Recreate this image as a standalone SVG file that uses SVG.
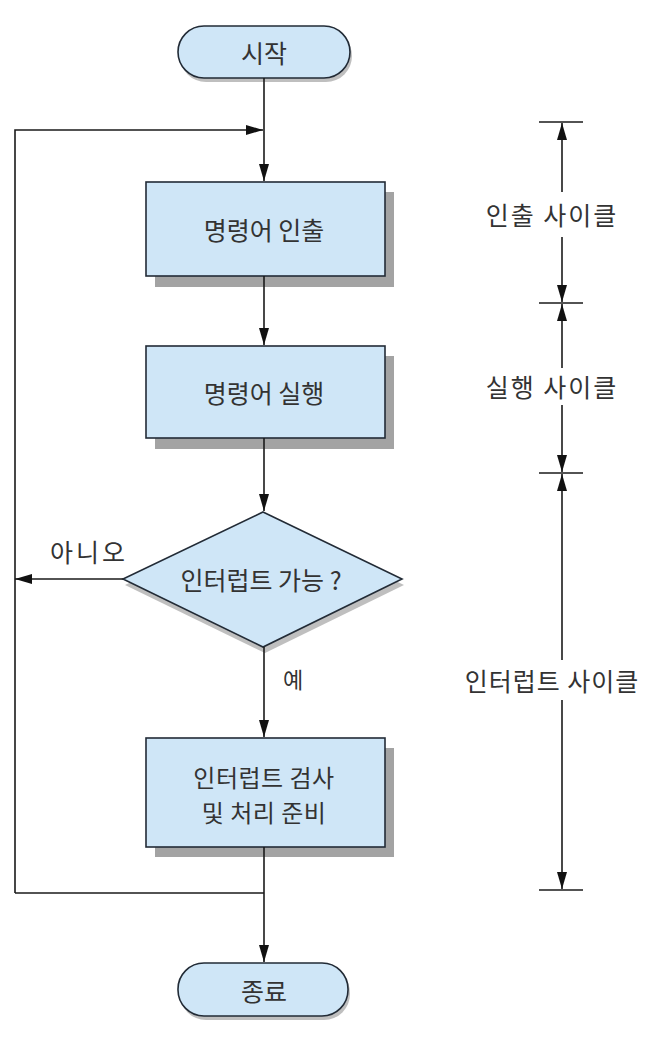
<svg xmlns="http://www.w3.org/2000/svg" width="646" height="1044" viewBox="0 0 646 1044">
<defs>
<style>
.box{fill:#cfe6f7;stroke:#222b36;stroke-width:1.6}
.shadow{fill:#a3a3a3}
.softshadow{fill:#8a8a8a;opacity:0.55}
.t{font-family:"Noto Sans CJK KR","Noto Sans",sans-serif;font-size:25px;fill:#333;text-anchor:middle;dominant-baseline:central}
.t2{font-size:24px;letter-spacing:0.5px}
.lbl{letter-spacing:2px}
.ln{fill:none;stroke:#1a1a1a;stroke-width:1.6}
</style>
<marker id="ah" markerUnits="userSpaceOnUse" markerWidth="18" markerHeight="12" viewBox="0 0 18 12" refX="17" refY="6" orient="auto">
<path d="M0,1 L17,6 L0,11 z" fill="#111"/>
</marker>
</defs>
<rect width="646" height="1044" fill="#fff"/>

<g id="start">
<rect class="softshadow" x="180" y="30" width="172" height="52" rx="26"/>
<rect class="box" x="178" y="26" width="172" height="52" rx="26"/>
<text class="t" x="264" y="52">시작</text>
</g>

<g id="fetch">
<rect class="shadow" x="155" y="192" width="239" height="95"/>
<rect class="box" x="146" y="182" width="239" height="94"/>
<text class="t" x="264" y="229">명령어 인출</text>
</g>

<g id="execute">
<rect class="shadow" x="155" y="356" width="239" height="93"/>
<rect class="box" x="146" y="346" width="239" height="92"/>
<text class="t" x="264" y="392">명령어 실행</text>
</g>

<g id="decision">
<polygon class="softshadow" points="265,518 404,585 265,653 125,585"/>
<polygon class="box" points="263,512 402,579 263,647 123,579"/>
<text class="t" x="261" y="579">인터럽트 가능 ?</text>
</g>

<g id="interrupt">
<rect class="shadow" x="155" y="748" width="239" height="109"/>
<rect class="box" x="146" y="738" width="239" height="109"/>
<text class="t t2" x="264" y="776">인터럽트 검사</text>
<text class="t t2" x="264" y="811">및 처리 준비</text>
</g>

<g id="end">
<rect class="softshadow" x="180" y="967" width="170" height="53" rx="26"/>
<rect class="box" x="178" y="963" width="170" height="53" rx="26"/>
<text class="t" x="264" y="990">종료</text>
</g>

<g id="connectors">
<line class="ln" x1="264" y1="78" x2="264" y2="181" marker-end="url(#ah)"/>
<polyline class="ln" points="15,893 15,130 263,130" marker-end="url(#ah)"/>
<line class="ln" x1="264" y1="276" x2="264" y2="345" marker-end="url(#ah)"/>
<line class="ln" x1="264" y1="438" x2="264" y2="511" marker-end="url(#ah)"/>
<line class="ln" x1="123" y1="579" x2="15" y2="579" marker-end="url(#ah)"/>
<line class="ln" x1="264" y1="647" x2="264" y2="737" marker-end="url(#ah)"/>
<line class="ln" x1="264" y1="847" x2="264" y2="962" marker-end="url(#ah)"/>
<line class="ln" x1="264" y1="893" x2="15" y2="893"/>
<text class="t" x="89" y="551" style="letter-spacing:3px">아니오</text>
<text class="t" x="293" y="678" style="font-size:22px">예</text>
</g>

<g id="cycles">
<line class="ln" x1="539" y1="122" x2="583" y2="122"/>
<line class="ln" x1="539" y1="303" x2="583" y2="303"/>
<line class="ln" x1="539" y1="473" x2="583" y2="473"/>
<line class="ln" x1="539" y1="890" x2="583" y2="890"/>
<line class="ln" x1="562" y1="192" x2="562" y2="123" marker-end="url(#ah)"/>
<line class="ln" x1="562" y1="237" x2="562" y2="302" marker-end="url(#ah)"/>
<line class="ln" x1="562" y1="368" x2="562" y2="304" marker-end="url(#ah)"/>
<line class="ln" x1="562" y1="405" x2="562" y2="472" marker-end="url(#ah)"/>
<line class="ln" x1="562" y1="660" x2="562" y2="474" marker-end="url(#ah)"/>
<line class="ln" x1="562" y1="700" x2="562" y2="889" marker-end="url(#ah)"/>
<text class="t lbl" x="552" y="214">인출 사이클</text>
<text class="t lbl" x="552" y="386">실행 사이클</text>
<text class="t" x="552" y="680" style="letter-spacing:1px">인터럽트 사이클</text>
</g>
</svg>
